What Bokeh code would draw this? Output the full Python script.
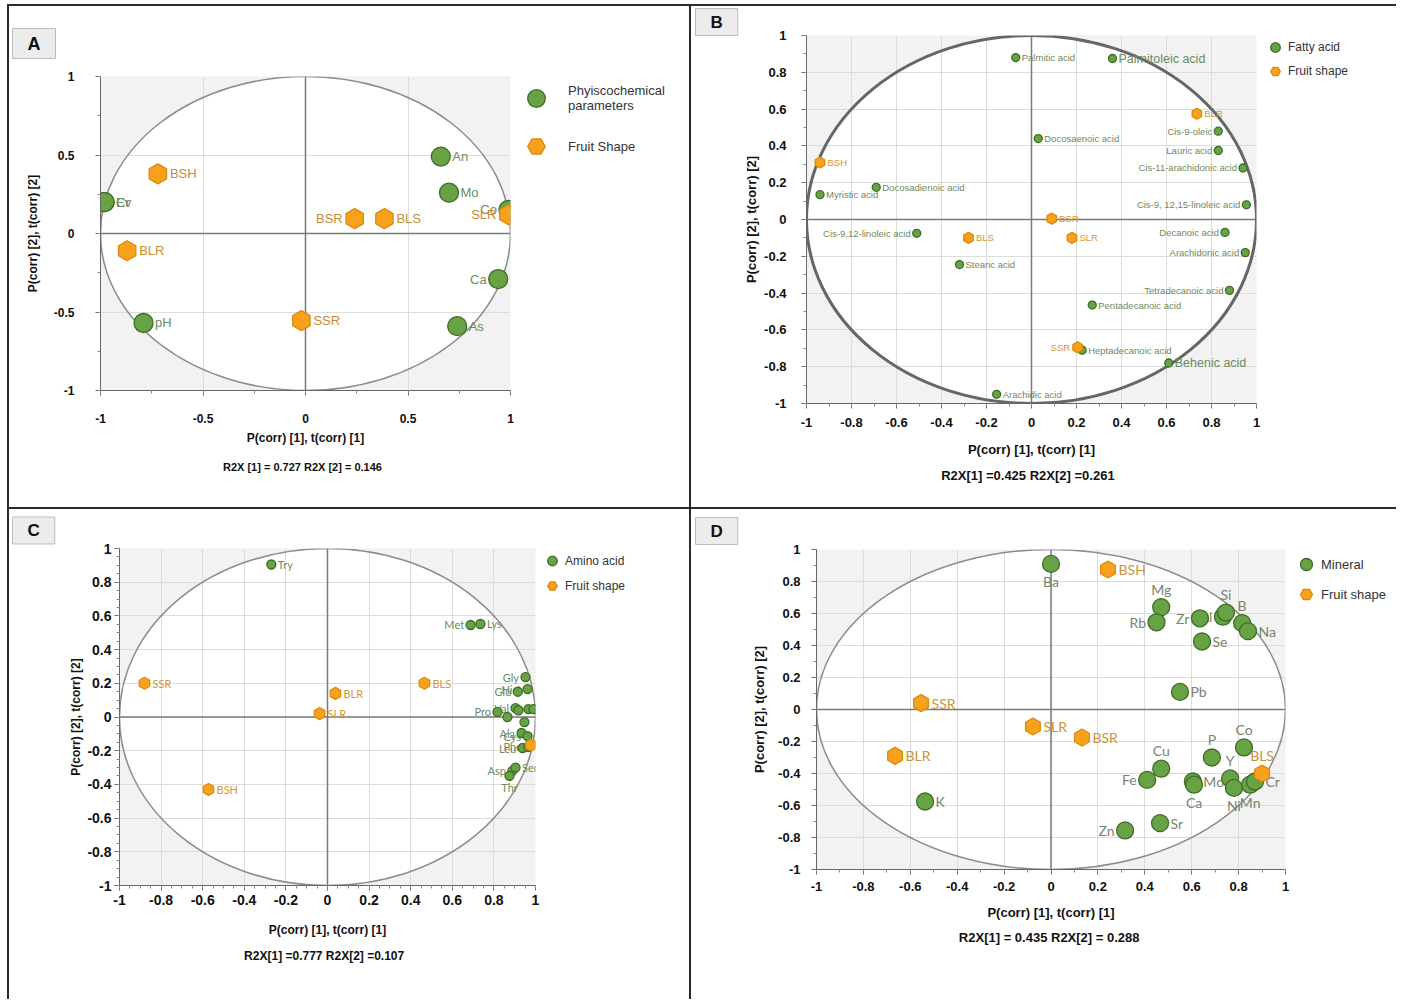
import numpy as np
from bokeh.plotting import figure
from bokeh.models import (ColumnDataSource, Span, Legend, LegendItem, Title,
                          FixedTicker, Range1d, Spacer)
from bokeh.layouts import column, row
from bokeh.embed import file_html
from bokeh.resources import INLINE
from bokeh.core.properties import value

# ---------------- data ----------------
x_title = "P(corr) [1], t(corr) [1]"
y_title = "P(corr) [2], t(corr) [2]"

# Panel A : physicochemical parameters
a_ticks = [-1.0, -0.5, 0.0, 0.5, 1.0]
a_tick_labels = ["-1", "-0.5", "0", "0.5", "1"]
a_green_names = ["Cr", "Ev", "An", "Mo", "Co", "Ca", "As", "pH"]
a_green_x = [-0.98, -0.98, 0.66, 0.70, 0.99, 0.94, 0.74, -0.79]
a_green_y = [0.20, 0.20, 0.49, 0.26, 0.15, -0.29, -0.59, -0.57]
a_green_side = ["r", "r", "r", "r", "l", "l", "r", "r"]
a_orange_names = ["BSH", "BSR", "BLS", "SLR", "BLR", "SSR"]
a_orange_x = [-0.72, 0.24, 0.385, 0.99, -0.87, -0.02]
a_orange_y = [0.38, 0.095, 0.095, 0.12, -0.11, -0.555]
a_orange_side = ["r", "l", "r", "l", "r", "r"]
a_r2x = "R2X [1] = 0.727   R2X [2] = 0.146"

# Panel B : fatty acids
b_ticks = [-1.0, -0.8, -0.6, -0.4, -0.2, 0.0, 0.2, 0.4, 0.6, 0.8, 1.0]
b_tick_labels = ["-1", "-0.8", "-0.6", "-0.4", "-0.2", "0", "0.2", "0.4", "0.6", "0.8", "1"]
b_green_names = ["Palmitic acid", "Palmitoleic acid", "Docosaenoic acid", "Cis-9-oleic",
                 "Lauric acid", "Cis-11-arachidonic acid", "Cis-9, 12,15-linoleic acid",
                 "Myristic acid", "Docosadienoic acid", "Cis-9,12-linoleic acid", "Stearic acid",
                 "Decanoic acid", "Arachidonic acid", "Tetradecanoic acid", "Pentadecanoic acid",
                 "Heptadecanoic acid", "Behenic acid", "Arachidic acid"]
b_green_x = [-0.07, 0.36, 0.03, 0.83, 0.83, 0.94, 0.955, -0.94, -0.69, -0.51, -0.32,
             0.86, 0.95, 0.88, 0.27, 0.225, 0.61, -0.155]
b_green_y = [0.88, 0.875, 0.44, 0.48, 0.375, 0.28, 0.08, 0.135, 0.175, -0.075, -0.245,
             -0.07, -0.18, -0.385, -0.465, -0.71, -0.78, -0.95]
b_green_side = ["r", "r", "r", "l", "l", "l", "l", "r", "r", "l", "r",
                "l", "l", "l", "r", "r", "r", "r"]
b_big_labels = ["Palmitoleic acid", "Behenic acid"]
b_orange_names = ["BSH", "BLR", "BSR", "SLR", "BLS", "SSR"]
b_orange_x = [-0.94, 0.735, 0.09, 0.18, -0.28, 0.205]
b_orange_y = [0.31, 0.575, 0.005, -0.10, -0.10, -0.695]
b_orange_side = ["r", "r", "r", "r", "r", "l"]
b_r2x = "R2X[1] =0.425   R2X[2] =0.261"

# Panel C : amino acids
c_ticks = b_ticks
c_tick_labels = b_tick_labels
c_green_names = ["Try", "Met", "Lys", "Gly", "Hist", "Glu", "Pro", "Ile", "Val", "Asn",
                 "Gln", "Arg", "Tyr", "Ala", "Cys", "Leu", "Phe", "Asp", "Ser", "Thr"]
c_green_x = [-0.27, 0.688, 0.735, 0.952, 0.962, 0.915, 0.817, 0.865, 0.904, 0.918,
             0.966, 0.99, 0.947, 0.933, 0.962, 0.938, 0.966, 0.889, 0.904, 0.875]
c_green_y = [0.905, 0.546, 0.552, 0.237, 0.166, 0.150, 0.030, 0.000, 0.053, 0.040,
             0.047, 0.047, -0.030, -0.095, -0.113, -0.184, -0.178, -0.320, -0.300, -0.350]
c_green_side = ["r", "l", "r", "l", "l", "l", "l", "n", "l", "n",
                "n", "n", "n", "l", "l", "l", "l", "l", "r", "b"]
c_orange_names = ["SSR", "BLR", "SLR", "BLS", "BSH", "BSR"]
c_orange_x = [-0.88, 0.038, -0.038, 0.466, -0.572, 0.978]
c_orange_y = [0.20, 0.14, 0.02, 0.20, -0.43, -0.166]
c_orange_side = ["r", "r", "r", "r", "r", "n"]
c_r2x = "R2X[1] =0.777   R2X[2] =0.107"

# Panel D : minerals
d_ticks = b_ticks
d_tick_labels = b_tick_labels
d_green_names = ["Ba", "Mg", "Rb", "Zr", "Al", "Si", "B", "Na", "Se", "Pb", "Co", "P",
                 "Y", "Cu", "Fe", "Mo", "Ca", "Ni", "Mn", "Cr", "K", "Zn", "Sr"]
d_green_x = [0.0, 0.47, 0.45, 0.635, 0.733, 0.746, 0.815, 0.84, 0.644, 0.55, 0.823, 0.686,
             0.764, 0.47, 0.41, 0.605, 0.61, 0.78, 0.849, 0.87, -0.537, 0.316, 0.465]
d_green_y = [0.91, 0.64, 0.545, 0.57, 0.58, 0.606, 0.54, 0.49, 0.425, 0.11, -0.237, -0.30,
             -0.431, -0.37, -0.44, -0.45, -0.47, -0.49, -0.47, -0.45, -0.575, -0.756, -0.71]
d_green_side = ["b", "a", "l", "l", "l", "a", "a", "r", "r", "r", "a", "a",
                "a", "a", "l", "r", "b", "b", "b", "r", "r", "l", "r"]
d_orange_names = ["BSH", "SSR", "SLR", "BSR", "BLR", "BLS"]
d_orange_x = [0.243, -0.554, -0.077, 0.132, -0.665, 0.90]
d_orange_y = [0.875, 0.04, -0.106, -0.175, -0.29, -0.40]
d_orange_side = ["r", "r", "r", "r", "r", "a"]
d_r2x = "R2X[1] = 0.435  R2X[2] = 0.288"

# ---------------- styling ----------------
FONT = "Liberation Sans"
GREEN_FILL, GREEN_LINE = "#67a344", "#3e6c27"
ORANGE_FILL, ORANGE_LINE = "#f7a11c", "#dd890f"
HEX_ANGLE = float(np.pi / 2)


def side_kw(side, r):
    if side == "r":
        return dict(x_offset=r + 2, text_align="left", text_baseline="middle")
    if side == "l":
        return dict(x_offset=-(r + 2), text_align="right", text_baseline="middle")
    if side == "a":
        return dict(y_offset=-(r + 1), text_align="center", text_baseline="bottom")
    return dict(y_offset=r + 1, text_align="center", text_baseline="top")


def add_labels(p, names, xs, ys, sides, r, color, size, font, big=(), big_size=None):
    groups = {}
    for n, x, y, s in zip(names, xs, ys, sides):
        if s == "n":
            continue
        key = (s, n in big)
        groups.setdefault(key, []).append((n, x, y))
    for (s, isbig), items in groups.items():
        src = ColumnDataSource(dict(t=[i[0] for i in items], x=[i[1] for i in items],
                                    y=[i[2] for i in items]))
        p.text("x", "y", "t", source=src, text_color=color,
               text_font_size=big_size if isbig else size,
               text_font=value(font), **side_kw(s, r))


def make_panel(cfg):
    p = figure(frame_width=cfg["FW"], frame_height=cfg["FH"],
               x_range=Range1d(-1, 1), y_range=Range1d(-1, 1),
               output_backend="svg", toolbar_location=None, frame_align=False,
               min_border_left=cfg["bl"], min_border_right=cfg["br"],
               min_border_top=cfg["bt"], min_border_bottom=cfg["bb"],
               background_fill_color="#f2f2f2", border_fill_color="white",
               outline_line_color=None)
    # white unit circle + grid
    p.ellipse(x=[0], y=[0], width=2, height=2, fill_color="white", line_color=None, level="image")
    ticks, labels = cfg["ticks"], cfg["labels"]
    p.xgrid.ticker = FixedTicker(ticks=ticks)
    p.ygrid.ticker = FixedTicker(ticks=ticks)
    for g in (p.xgrid[0], p.ygrid[0]):
        g.grid_line_color = "#dcdcdc"
        g.grid_line_width = 1
    p.ellipse(x=[0], y=[0], width=2, height=2, fill_color=None,
              line_color=cfg["circle_color"], line_width=cfg["circle_w"])
    for dim in ("height", "width"):
        p.add_layout(Span(location=0, dimension=dim, line_color="#7a7a7a",
                          line_width=1.5, level="underlay"))
    # axes
    for ax, which in ((p.xaxis[0], "x"), (p.yaxis[0], "y")):
        ax.ticker = FixedTicker(ticks=ticks, minor_ticks=cfg["minor"])
        ax.major_label_overrides = {t: l for t, l in zip(ticks, labels)}
        ax.major_label_text_font = FONT
        ax.major_label_text_font_style = "bold"
        ax.major_label_text_font_size = cfg["tick_size"]
        ax.major_label_text_color = "#111111"
        ax.axis_line_color = "#666666"
        ax.major_tick_line_color = "#666666"
        ax.minor_tick_line_color = "#888888"
        ax.major_tick_out, ax.major_tick_in = 5, 0
        ax.minor_tick_out, ax.minor_tick_in = 3, 0
        ax.axis_label = x_title if which == "x" else y_title
        ax.axis_label_text_font = FONT
        ax.axis_label_text_font_style = "bold"
        ax.axis_label_text_font_size = cfg["axlabel_size"]
        ax.axis_label_text_color = "#111111"
        ax.major_label_standoff = cfg[which + "_mls"]
        ax.axis_label_standoff = cfg[which + "_als"]
    # labels then markers
    gr, orr = cfg["gsize"] / 2, cfg["osize"] / 2
    add_labels(p, cfg["gn"], cfg["gx"], cfg["gy"], cfg["gs"], gr, cfg["gcol"], cfg["lab_size"],
               cfg["lab_font"], cfg.get("big", ()), cfg.get("big_size"))
    add_labels(p, cfg["on"], cfg["ox"], cfg["oy"], cfg["os"], orr, cfg["ocol"], cfg["lab_size"],
               cfg["lab_font"])
    p.scatter(cfg["gx"], cfg["gy"], marker="circle", size=cfg["gsize"],
              fill_color=GREEN_FILL, line_color=GREEN_LINE, line_width=1.3)
    p.scatter(cfg["ox"], cfg["oy"], marker="hex", angle=HEX_ANGLE, size=cfg["osize"],
              fill_color=ORANGE_FILL, line_color=ORANGE_LINE, line_width=1.3)
    # R2X line
    p.add_layout(Title(text=cfg["r2x"], align="center", text_font=FONT, text_font_style="bold",
                       text_font_size=cfg["r2x_size"], text_color="#111111",
                       standoff=cfg["r2x_standoff"], offset=cfg["r2x_off"]), "below")
    # panel letter box (title above)
    off, sto, fsz, pad = cfg["box"]
    t = p.title
    t.text = cfg["letter"]
    t.align = "left"
    t.offset = off
    t.standoff = sto
    t.text_font = FONT
    t.text_font_style = "bold"
    t.text_font_size = fsz
    t.text_color = "#111111"
    t.background_fill_color = "#ececec"
    t.border_line_color = "#bdbdbd"
    t.padding = pad

    # legend on its own small canvas to the right of the plot (left side panel).
    # The key renderers reuse the panel's series; the canvas ranges keep them out of view.
    lg = cfg["legend"]
    leg_w = cfg["PW"] - (cfg["bl"] + cfg["FW"] + cfg["br"])
    q = figure(width=leg_w, height=cfg["PH"], x_range=Range1d(10, 11), y_range=Range1d(10, 11),
               output_backend="svg", toolbar_location=None,
               min_border_left=0, min_border_right=0, min_border_bottom=0,
               min_border_top=lg["top"],
               x_axis_location=None, y_axis_location=None, outline_line_color=None,
               background_fill_color="white", border_fill_color="white")
    q.xgrid.visible = False
    q.ygrid.visible = False
    kg = q.scatter(cfg["gx"], cfg["gy"], marker="circle", size=cfg["gsize"],
                   fill_color=GREEN_FILL, line_color=GREEN_LINE, line_width=1.3)
    ko = q.scatter(cfg["ox"], cfg["oy"], marker="hex", angle=HEX_ANGLE, size=cfg["osize"],
                   fill_color=ORANGE_FILL, line_color=ORANGE_LINE, line_width=1.3)
    legend = Legend(items=[LegendItem(label=lg["g"], renderers=[kg], index=0),
                           LegendItem(label=lg["o"], renderers=[ko], index=0)],
                    location="top_left", glyph_width=lg["gw"], glyph_height=lg["gh"],
                    spacing=lg["sp"], padding=0, margin=0, label_standoff=lg["ls"],
                    label_text_font=FONT, label_text_font_size=lg["fs"],
                    label_text_color="#333333", background_fill_alpha=0,
                    border_line_color=None)
    q.add_layout(legend, "left")
    return row(p, q)


def minor(step):
    n = int(round(2 / step))
    return [round(-1 + step * i, 3) for i in range(n + 1)]


pA = make_panel(dict(
    PW=680, PH=501, FW=410, FH=314, bl=91, br=4, bt=70, bb=117,
    ticks=a_ticks, labels=a_tick_labels,
    minor=minor(0.25), circle_color="#8c8c8c", circle_w=1.5, tick_size="12px",
    axlabel_size="12px", x_mls=18, x_als=5, y_mls=21, y_als=11,
    gn=a_green_names, gx=a_green_x, gy=a_green_y, gs=a_green_side,
    on=a_orange_names, ox=a_orange_x, oy=a_orange_y, os=a_orange_side,
    gsize=19, osize=20, gcol="#6e8b60", ocol="#c58e35", lab_size="13px", lab_font=FONT,
    legend=dict(g="Phyiscochemical\nparameters", o="Fruit Shape", top=66,
                gw=44, gh=44, sp=4, ls=10, fs="13px"),
    r2x=a_r2x, r2x_size="11px", r2x_standoff=23, r2x_off=21,
    letter="A", box=(-88, 36, "18px", (15, 5))))

pB = make_panel(dict(
    PW=705, PH=501, FW=450, FH=368, bl=115, br=6, bt=29, bb=104,
    ticks=b_ticks, labels=b_tick_labels,
    minor=minor(0.1), circle_color="#666666", circle_w=3, tick_size="13px",
    axlabel_size="13px", x_mls=9, x_als=12, y_mls=15, y_als=2,
    gn=b_green_names, gx=b_green_x, gy=b_green_y, gs=b_green_side,
    on=b_orange_names, ox=b_orange_x, oy=b_orange_y, os=b_orange_side,
    gsize=8, osize=11, gcol="#6e8a5e", ocol="#d3963a", lab_size="9.5px", lab_font=FONT,
    big=b_big_labels, big_size="12.5px",
    legend=dict(g="Fatty acid", o="Fruit shape", top=26,
                gw=26, gh=24, sp=-4, ls=0, fs="12px"),
    r2x=b_r2x, r2x_size="13px", r2x_standoff=13, r2x_off=0,
    letter="B", box=(-111, 0, "17px", (15, 4))))

pC = make_panel(dict(
    PW=680, PH=490, FW=416, FH=337, bl=110, br=5, bt=39, bb=114,
    ticks=c_ticks, labels=c_tick_labels,
    minor=minor(0.05), circle_color="#8c8c8c", circle_w=1.5, tick_size="14px",
    axlabel_size="12px", x_mls=4, x_als=15, y_mls=3, y_als=1,
    gn=c_green_names, gx=c_green_x, gy=c_green_y, gs=c_green_side,
    on=c_orange_names, ox=c_orange_x, oy=c_orange_y, os=c_orange_side,
    gsize=9, osize=12, gcol="#6e8a5e", ocol="#d3963a", lab_size="11px", lab_font="Lato",
    legend=dict(g="Amino acid", o="Fruit shape", top=3,
                gw=24, gh=25, sp=0, ls=1, fs="12px"),
    r2x=c_r2x, r2x_size="12px", r2x_standoff=15, r2x_off=-11,
    letter="C", box=(-107, 9, "17px", (15, 4))))

pD = make_panel(dict(
    PW=705, PH=490, FW=469, FH=320, bl=125, br=6, bt=40, bb=130,
    ticks=d_ticks, labels=d_tick_labels,
    minor=minor(0.1), circle_color="#8c8c8c", circle_w=1.5, tick_size="13px",
    axlabel_size="13px", x_mls=7, x_als=11, y_mls=11, y_als=8,
    gn=d_green_names, gx=d_green_x, gy=d_green_y, gs=d_green_side,
    on=d_orange_names, ox=d_orange_x, oy=d_orange_y, os=d_orange_side,
    gsize=17, osize=17, gcol="#76866e", ocol="#c8943c", lab_size="14px", lab_font="Lato",
    legend=dict(g="Mineral", o="Fruit shape", top=30,
                gw=30, gh=30, sp=-8, ls=0, fs="13px"),
    r2x=d_r2x, r2x_size="13px", r2x_standoff=10, r2x_off=13,
    letter="D", box=(-121, 10, "17px", (15, 4))))


def bar(w, h):
    return Spacer(width=w, height=h, styles={"background-color": "#2b2b2b"})


def gap(w, h):
    return Spacer(width=w, height=h)


layout = column(
    gap(1396, 4),
    row(gap(7, 2), bar(1389, 2)),
    row(gap(7, 501), bar(2, 501), pA, bar(2, 501), pB),
    row(gap(7, 2), bar(1389, 2)),
    row(gap(7, 490), bar(2, 490), pC, bar(2, 490), pD),
)

open("out.html", "w").write(file_html(layout, INLINE, "PCA loading plots"))
